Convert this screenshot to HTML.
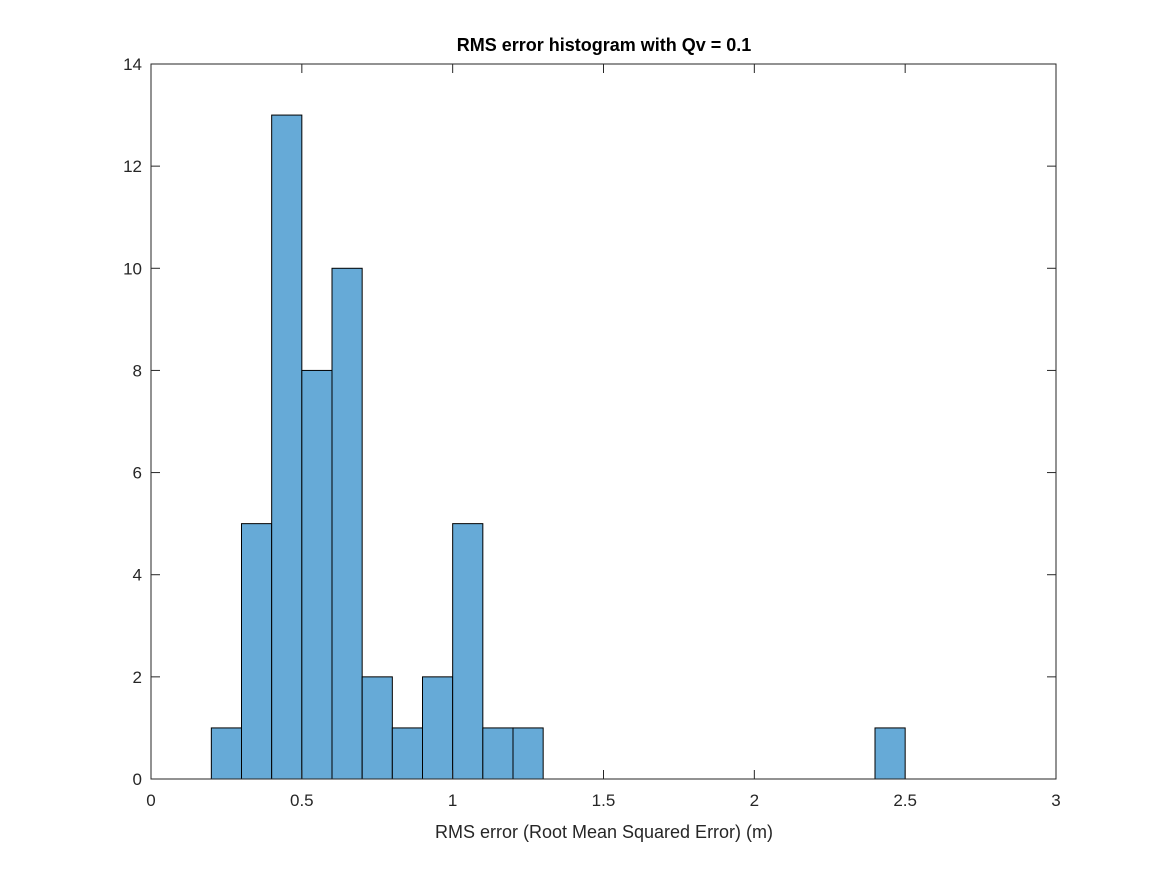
<!DOCTYPE html>
<html><head><meta charset="utf-8"><style>
body{margin:0;background:#fff;}
svg text{font-family:"Liberation Sans",sans-serif;fill:#262626;}
</style></head><body>
<svg id="chart" width="1167" height="875" xmlns="http://www.w3.org/2000/svg">
<rect width="1167" height="875" fill="#fff"/>
<g id="bars"></g>
<g id="axes"></g>
<text x="604" y="51" text-anchor="middle" font-size="18" font-weight="bold" style="fill:#000">RMS error histogram with Qv = 0.1</text>
<text x="604" y="838" text-anchor="middle" font-size="18">RMS error (Root Mean Squared Error) (m)</text>
</svg>
<script>
const binEdgesLo=[0.2,0.3,0.4,0.5,0.6,0.7,0.8,0.9,1.0,1.1,1.2,2.4];
const binWidth=0.1;
const counts=[1,5,13,8,10,2,1,2,5,1,1,1];
const xTicks=[0,0.5,1,1.5,2,2.5,3];
const xTickLabels=["0","0.5","1","1.5","2","2.5","3"];
const yTicks=[0,2,4,6,8,10,12,14];
const yTickLabels=["0","2","4","6","8","10","12","14"];
const L=151,R=1056,T=64,B=779,xMin=0,xMax=3,yMin=0,yMax=14;
const xs=v=>L+(v-xMin)/(xMax-xMin)*(R-L);
const ys=v=>B-(v-yMin)/(yMax-yMin)*(B-T);
const NS="http://www.w3.org/2000/svg";
const bars=document.getElementById('bars'),axes=document.getElementById('axes');
function mk(tag,attrs,parent){const e=document.createElementNS(NS,tag);for(const k in attrs)e.setAttribute(k,attrs[k]);parent.appendChild(e);return e;}
binEdgesLo.forEach((lo,i)=>{
  const x0=xs(lo),x1=xs(lo+binWidth),y=ys(counts[i]);
  const r=mk('rect',{x:x0,y:y,width:x1-x0,height:ys(0)-y,fill:'#66aad7',stroke:'#000','stroke-width':1},bars);
  
  
});
const box=mk('rect',{x:L,y:T,width:R-L,height:B-T,fill:'none',stroke:'#262626','stroke-width':1},axes);


xTicks.forEach((v,i)=>{
  const x=xs(v);
  mk('line',{x1:x,x2:x,y1:B,y2:B-9,stroke:'#262626'},axes);
  mk('line',{x1:x,x2:x,y1:T,y2:T+9,stroke:'#262626'},axes);
  const t=mk('text',{x:x,y:B+27,'text-anchor':'middle','font-size':17},axes);
  t.textContent=xTickLabels[i];
  
  
});
yTicks.forEach((v,i)=>{
  const y=ys(v);
  mk('line',{x1:L,x2:L+9,y1:y,y2:y,stroke:'#262626'},axes);
  mk('line',{x1:R,x2:R-9,y1:y,y2:y,stroke:'#262626'},axes);
  const t=mk('text',{x:L-9,y:y+6,'text-anchor':'end','font-size':17},axes);
  t.textContent=yTickLabels[i];
  
  
});
</script>
</body></html>
